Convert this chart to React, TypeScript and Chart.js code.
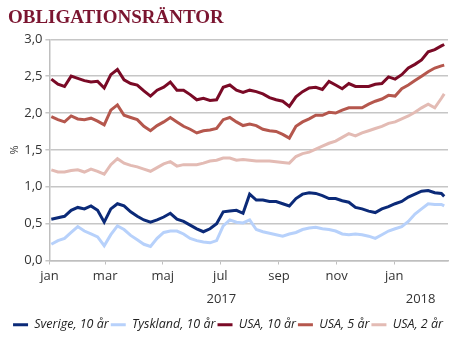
import { useEffect, useRef } from 'react';
import { Chart, registerables } from 'chart.js';
Chart.register(...registerables);

// days since 1 Jan 2017
const days = [2, 9, 16, 23, 30, 37, 44, 51, 58, 65, 72, 79, 86, 93, 100,
  107, 114, 121, 128, 135, 142, 149, 156, 163, 170, 177, 184, 191, 198, 205, 212,
  219, 226, 233, 240, 247, 254, 261, 268, 275, 282, 289, 296, 303, 310, 317,
  324, 331, 338, 345, 352, 359, 366, 373, 380, 387, 394, 401, 408, 415, 418];

const sverige10 = [0.56, 0.58, 0.60, 0.68, 0.72, 0.70, 0.74, 0.68, 0.52, 0.70, 0.77, 0.74, 0.66, 0.60, 0.55,
  0.52, 0.55, 0.59, 0.64, 0.56, 0.53, 0.48, 0.43, 0.39, 0.43, 0.50, 0.66, 0.67, 0.68, 0.64, 0.90,
  0.82, 0.82, 0.80, 0.80, 0.77, 0.74, 0.84, 0.90, 0.92, 0.91, 0.88, 0.84, 0.84, 0.81, 0.79,
  0.72, 0.70, 0.67, 0.65, 0.70, 0.73, 0.77, 0.80, 0.86, 0.90, 0.94, 0.95, 0.92, 0.91, 0.87];

const tyskland10 = [0.22, 0.27, 0.30, 0.38, 0.46, 0.40, 0.36, 0.32, 0.20, 0.35, 0.47, 0.42, 0.34, 0.28, 0.22,
  0.19, 0.30, 0.38, 0.40, 0.40, 0.36, 0.30, 0.27, 0.25, 0.24, 0.27, 0.47, 0.55, 0.52, 0.51, 0.55,
  0.42, 0.39, 0.37, 0.35, 0.33, 0.36, 0.38, 0.42, 0.44, 0.45, 0.43, 0.42, 0.40, 0.36, 0.35,
  0.36, 0.35, 0.33, 0.30, 0.35, 0.40, 0.43, 0.46, 0.53, 0.63, 0.70, 0.77, 0.76, 0.76, 0.74];

const usa10 = [2.46, 2.39, 2.36, 2.50, 2.47, 2.44, 2.42, 2.43, 2.34, 2.52, 2.59, 2.45, 2.40, 2.38, 2.30,
  2.23, 2.31, 2.35, 2.42, 2.31, 2.31, 2.25, 2.18, 2.20, 2.17, 2.18, 2.35, 2.38, 2.31, 2.28, 2.31,
  2.29, 2.26, 2.21, 2.18, 2.16, 2.09, 2.22, 2.29, 2.34, 2.35, 2.32, 2.43, 2.38, 2.33, 2.40,
  2.36, 2.36, 2.36, 2.39, 2.40, 2.49, 2.46, 2.52, 2.61, 2.66, 2.72, 2.83, 2.86, 2.91, 2.93];

const usa5 = [1.95, 1.91, 1.88, 1.96, 1.92, 1.91, 1.93, 1.89, 1.84, 2.04, 2.11, 1.97, 1.94, 1.91, 1.82,
  1.76, 1.83, 1.88, 1.94, 1.88, 1.82, 1.78, 1.73, 1.76, 1.77, 1.79, 1.91, 1.94, 1.88, 1.83, 1.85,
  1.83, 1.78, 1.76, 1.75, 1.71, 1.66, 1.82, 1.88, 1.92, 1.97, 1.97, 2.01, 2.00, 2.04, 2.07,
  2.07, 2.07, 2.12, 2.16, 2.19, 2.24, 2.23, 2.33, 2.38, 2.44, 2.50, 2.56, 2.61, 2.64, 2.65];

const usa2 = [1.23, 1.20, 1.20, 1.22, 1.23, 1.20, 1.24, 1.21, 1.17, 1.30, 1.38, 1.32, 1.29, 1.27, 1.24,
  1.21, 1.26, 1.31, 1.34, 1.28, 1.30, 1.30, 1.30, 1.32, 1.35, 1.36, 1.39, 1.39, 1.36, 1.37, 1.36,
  1.35, 1.35, 1.35, 1.34, 1.33, 1.32, 1.41, 1.45, 1.47, 1.51, 1.55, 1.59, 1.62, 1.67, 1.72,
  1.69, 1.73, 1.76, 1.79, 1.82, 1.86, 1.88, 1.92, 1.96, 2.01, 2.07, 2.12, 2.07, 2.20, 2.26];

const monthTickDays = [0, 59, 120, 181, 243, 304, 365];
const monthTickLabels = ['jan', 'mar', 'maj', 'jul', 'sep', 'nov', 'jan'];
const yearTickDays = [182, 393];
const yearTickLabels = ['2017', '2018'];

const seriesNames = ['Sverige, 10 år', 'Tyskland, 10 år', 'USA, 10 år', 'USA, 5 år', 'USA, 2 år'];
const seriesColors = ['#0b2a78', '#b7d1fb', '#7a0a26', '#b5574d', '#e3bbb4'];

export default function App() {
  const ref = useRef<HTMLCanvasElement>(null);
  useEffect(() => {
    const canvas = ref.current;
    if (!canvas) return;
    const all = [sverige10, tyskland10, usa10, usa5, usa2];
    const datasets = all.map((arr, k) => ({
      label: seriesNames[k],
      data: days.map((d, i) => ({ x: d, y: arr[i] })),
      borderColor: seriesColors[k],
      backgroundColor: seriesColors[k],
      borderWidth: 3,
      pointRadius: 0,
      tension: 0,
    }));
    const fam = '"Open Sans", Lato, sans-serif';
    const chart = new Chart(canvas, {
      type: 'line',
      data: { datasets },
      options: {
        animation: false,
        responsive: false,
        layout: { padding: { left: 8, right: 21, top: 0, bottom: 3 } },
        scales: {
          x: {
            type: 'linear',
            min: 0,
            max: 422,
            weight: 0,
            afterBuildTicks: (s: any) => { s.ticks = monthTickDays.map((v) => ({ value: v })); },
            afterFit: (s: any) => { s.height = 23; },
            ticks: {
              autoSkip: false,
              maxRotation: 0,
              padding: 4,
              color: '#333',
              font: { family: fam, size: 13 },
              callback: (v: any) => monthTickLabels[monthTickDays.indexOf(Number(v))],
            },
            grid: { drawOnChartArea: false, drawTicks: true, tickLength: 4, color: '#bfbfbf' },
            border: { color: '#bfbfbf', width: 1.5 },
          },
          x2: {
            type: 'linear',
            position: 'bottom',
            min: 0,
            max: 422,
            weight: 1,
            afterBuildTicks: (s: any) => { s.ticks = yearTickDays.map((v) => ({ value: v })); },
            afterFit: (s: any) => { s.height = 33; },
            ticks: {
              autoSkip: false,
              maxRotation: 0,
              padding: 0,
              color: '#333',
              font: { family: fam, size: 13 },
              callback: (v: any) => yearTickLabels[yearTickDays.indexOf(Number(v))],
            },
            grid: { display: false },
            border: { display: false },
          },
          y: {
            min: 0,
            max: 3,
            ticks: {
              stepSize: 0.5,
              color: '#333',
              font: { family: fam, size: 13 },
              padding: 3,
              callback: (v: any) => Number(v).toFixed(1).replace('.', ','),
            },
            grid: { color: '#c6c6c6', lineWidth: 1.5, tickLength: 4 },
            border: { color: '#bfbfbf', width: 1.5 },
            title: { display: true, text: '%', color: '#333', font: { family: fam, size: 11 }, padding: 0 },
          },
        },
        plugins: {
          title: {
            display: true,
            text: 'OBLIGATIONSRÄNTOR',
            align: 'start',
            color: '#7b1530',
            font: { family: '"Liberation Serif", serif', size: 19, weight: 'bold' },
            padding: { top: 7, bottom: 9.5 },
          },
          legend: {
            position: 'bottom',
            labels: {
              boxWidth: 15,
              boxHeight: 3,
              padding: 2,
              color: '#222',
              font: { family: fam, size: 12.5, style: 'italic' },
              generateLabels: (c: any) => {
                const base = Chart.defaults.plugins.legend.labels.generateLabels(c);
                return base.map((l: any) => ({ ...l, lineWidth: 0 }));
              },
            },
          },
          tooltip: { enabled: false },
        },
      },
    } as any);
    return () => chart.destroy();
  }, []);
  return (
    <div style={{ position: 'fixed', left: 0, top: 0, width: 469, height: 344, background: '#fff' }}>
      <canvas ref={ref} width={469} height={344} style={{ display: 'block', width: 469, height: 344 }} />
    </div>
  );
}
